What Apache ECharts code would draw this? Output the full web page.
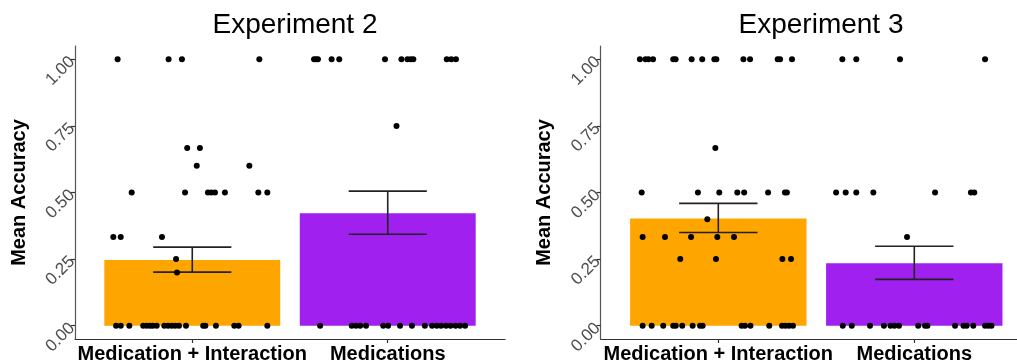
<!DOCTYPE html>
<html>
<head>
<meta charset="utf-8">
<script src="https://cdn.jsdelivr.net/npm/echarts@6/dist/echarts.min.js"></script>
<style>
html,body{margin:0;padding:0;background:#fff;}
#chart{width:1017px;height:364px;}
</style>
</head>
<body>
<div id="chart"></div>
<script>
// ---- data ----
const categories = ['Medication + Interaction', 'Medications'];
const panelTitles = ['Experiment 2', 'Experiment 3'];
const yTicks = [0, 0.25, 0.5, 0.75, 1.0];
const barColors = ['#FFA500', '#A020F0'];

const exp2Means = [0.247, 0.422];
const exp2Lower = [0.201, 0.343];
const exp2Upper = [0.295, 0.505];

const exp3Means = [0.402, 0.234];
const exp3Lower = [0.350, 0.174];
const exp3Upper = [0.459, 0.298];

// jittered individual scores [x position, accuracy]
const exp2Points = [
  // Medication + Interaction
  [0.618,1],[0.879,1],[0.947,1],[1.343,1],
  [0.974,0.667],[1.039,0.667],
  [1.023,0.6],[1.292,0.6],
  [0.690,0.5],[0.963,0.5],[1.080,0.5],[1.097,0.5],[1.116,0.5],[1.167,0.5],[1.338,0.5],[1.384,0.5],
  [0.596,0.333],[0.634,0.333],[0.845,0.333],
  [0.917,0.25],[0.922,0.2],
  [0.610,0],[0.634,0],[0.678,0],[0.749,0],[0.767,0],[0.784,0],[0.798,0],[0.818,0],[0.857,0],[0.876,0],
  [0.895,0],[0.913,0],[0.932,0],[0.968,0],[1.056,0],[1.067,0],[1.121,0],[1.215,0],[1.237,0],[1.384,0],
  // Medications
  [1.623,1],[1.633,1],[1.643,1],[1.713,1],[1.752,1],[1.986,1],[2.070,1],[2.101,1],[2.117,1],[2.131,1],
  [2.302,1],[2.325,1],[2.349,1],
  [2.045,0.75],
  [1.654,0],[1.816,0],[1.838,0],[1.859,0],[1.889,0],[1.977,0],[2.002,0],[2.063,0],[2.124,0],[2.190,0],
  [2.227,0],[2.251,0],[2.273,0],[2.298,0],[2.321,0],[2.347,0],[2.370,0],[2.396,0]
];

const exp3Points = [
  // Medication + Interaction
  [0.600,1],[0.629,1],[0.644,1],[0.667,1],[0.770,1],[0.782,1],[0.864,1],[0.918,1],[0.980,1],[0.990,1],
  [1.128,1],[1.162,1],[1.303,1],[1.315,1],[1.376,1],
  [0.985,0.667],
  [0.609,0.5],[0.896,0.5],[1.005,0.5],[1.097,0.5],[1.132,0.5],[1.254,0.5],[1.340,0.5],[1.350,0.5],
  [0.944,0.4],
  [0.614,0.333],[0.728,0.333],[0.861,0.333],[0.995,0.333],[1.080,0.333],
  [0.806,0.25],[0.988,0.25],[1.327,0.25],[1.371,0.25],
  [0.614,0],[0.660,0],[0.719,0],[0.770,0],[0.783,0],[0.816,0],[0.869,0],[0.907,0],[0.920,0],
  [1.119,0],[1.136,0],[1.164,0],[1.260,0],[1.325,0],[1.343,0],[1.361,0],[1.381,0],
  // Medications
  [1.633,1],[1.704,1],[1.927,1],[2.361,1],
  [1.601,0.5],[1.650,0.5],[1.704,0.5],[1.791,0.5],[2.106,0.5],[2.289,0.5],[2.306,0.5],
  [1.963,0.333],
  [1.635,0],[1.681,0],[1.774,0],[1.845,0],[1.879,0],[1.899,0],[1.922,0],[2.020,0],[2.055,0],[2.067,0],
  [2.208,0],[2.251,0],[2.267,0],[2.301,0],[2.361,0],[2.378,0],[2.394,0]
];

// ---- chart ----
const FONT = '"Liberation Sans", Arial, sans-serif';
const chart = echarts.init(document.getElementById('chart'), null, {renderer: 'canvas'});

const grids = [
  {left: 75, width: 430, top: 46, height: 294.5},
  {left: 600.7, right: 0, top: 46, height: 294.5}
];
const xMax = [2.6, 2.524];

function xAxisFor(i) {
  return {
    type: 'value', gridIndex: i, min: 0.4, max: xMax[i],
    splitLine: {show: false},
    axisLine: {show: true, onZero: false, lineStyle: {color: '#333', width: 1.2}},
    axisTick: {show: true, customValues: [1, 2], length: 4, lineStyle: {color: '#333', width: 1.2}},
    axisLabel: {
      customValues: [1, 2], margin: 5,
      formatter: v => categories[Math.round(v) - 1],
      color: '#000', fontSize: 20, fontWeight: 'bold', fontFamily: FONT
    }
  };
}
function yAxisFor(i) {
  return {
    type: 'value', gridIndex: i, min: -0.05, max: 1.05,
    name: 'Mean Accuracy', nameLocation: 'middle', nameGap: 46,
    nameTextStyle: {color: '#000', fontSize: 20, fontWeight: 'bold', fontFamily: FONT},
    splitLine: {show: false},
    axisLine: {show: true, onZero: false, lineStyle: {color: '#555', width: 1.2}},
    axisTick: {show: true, customValues: yTicks, length: 4, lineStyle: {color: '#333', width: 1.2}},
    axisLabel: {
      customValues: yTicks, rotate: 45, margin: 3,
      formatter: v => v.toFixed(2),
      color: '#4D4D4D', fontSize: 17, fontFamily: FONT
    }
  };
}

function barSeries(i, means) {
  return {
    type: 'custom', xAxisIndex: i, yAxisIndex: i, z: 1,
    data: means.map((m, k) => [k + 1, m]),
    renderItem: (params, api) => {
      const x = api.value(0), y = api.value(1);
      const p1 = api.coord([x - 0.45, y]);
      const p2 = api.coord([x + 0.45, 0]);
      return {
        type: 'rect',
        shape: {x: p1[0], y: p1[1], width: p2[0] - p1[0], height: p2[1] - p1[1]},
        style: {fill: barColors[params.dataIndex]}
      };
    }
  };
}
function errSeries(i, lo, hi) {
  return {
    type: 'custom', xAxisIndex: i, yAxisIndex: i, z: 2,
    data: lo.map((l, k) => [k + 1, l, hi[k]]),
    renderItem: (params, api) => {
      const x = api.value(0);
      const a = api.coord([x - 0.2, api.value(2)]);
      const b = api.coord([x + 0.2, api.value(1)]);
      const c = api.coord([x, 0]);
      const st = {stroke: '#222', lineWidth: 1.6};
      return {
        type: 'group',
        children: [
          {type: 'line', shape: {x1: a[0], y1: a[1], x2: b[0], y2: a[1]}, style: st},
          {type: 'line', shape: {x1: a[0], y1: b[1], x2: b[0], y2: b[1]}, style: st},
          {type: 'line', shape: {x1: c[0], y1: a[1], x2: c[0], y2: b[1]}, style: st}
        ]
      };
    }
  };
}
function pointSeries(i, pts) {
  return {
    type: 'scatter', xAxisIndex: i, yAxisIndex: i, z: 3,
    data: pts, symbol: 'circle', symbolSize: 6,
    itemStyle: {color: '#000', opacity: 1}, silent: true
  };
}

chart.setOption({
  animation: false,
  backgroundColor: '#fff',
  title: [
    {text: panelTitles[0], left: 290, top: 6, textAlign: 'center',
     textStyle: {fontSize: 28, fontWeight: 'normal', color: '#000', fontFamily: FONT}},
    {text: panelTitles[1], left: 816, top: 6, textAlign: 'center',
     textStyle: {fontSize: 28, fontWeight: 'normal', color: '#000', fontFamily: FONT}}
  ],
  grid: grids,
  xAxis: [xAxisFor(0), xAxisFor(1)],
  yAxis: [yAxisFor(0), yAxisFor(1)],
  series: [
    barSeries(0, exp2Means), errSeries(0, exp2Lower, exp2Upper), pointSeries(0, exp2Points),
    barSeries(1, exp3Means), errSeries(1, exp3Lower, exp3Upper), pointSeries(1, exp3Points)
  ]
});
</script>
</body>
</html>
